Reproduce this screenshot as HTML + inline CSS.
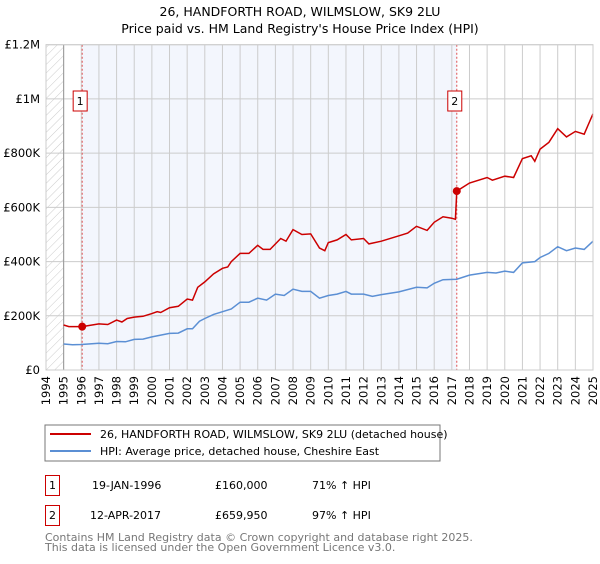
<!DOCTYPE html>
<html><head><meta charset="utf-8"><style>
body{margin:0;background:#fff;font-family:"DejaVu Sans","Liberation Sans",sans-serif;}
svg text{font-family:"DejaVu Sans","Liberation Sans",sans-serif;}
</style></head><body>
<svg width="600" height="560" viewBox="0 0 600 560" id="svg">
<defs><pattern id="hatch" width="6" height="6" patternUnits="userSpaceOnUse" patternTransform="rotate(45)"><line x1="0" y1="0" x2="0" y2="6" stroke="#ccc" stroke-width="1"/></pattern></defs>
<text x="300" y="16" text-anchor="middle" font-size="12.5">26, HANDFORTH ROAD, WILMSLOW, SK9 2LU</text>
<text x="300" y="33" text-anchor="middle" font-size="12.5">Price paid vs. HM Land Registry's House Price Index (HPI)</text>
<g id="plot"></g>
<rect x="45" y="425" width="395" height="36" fill="#fff" stroke="#777"/>
<line x1="50" y1="434" x2="91" y2="434" stroke="#cc0000" stroke-width="2"/>
<text x="100" y="438" font-size="11">26, HANDFORTH ROAD, WILMSLOW, SK9 2LU (detached house)</text>
<line x1="50" y1="451" x2="91" y2="451" stroke="#5b8fd4" stroke-width="2"/>
<text x="100" y="455" font-size="11">HPI: Average price, detached house, Cheshire East</text>
<g font-size="11">
<rect x="45.5" y="475.5" width="14" height="20" fill="#fff" stroke="#cc0000"/><text x="52.5" y="489" text-anchor="middle">1</text>
<text x="92" y="489">19-JAN-1996</text><text x="215" y="489">£160,000</text><text x="312" y="489">71% ↑ HPI</text></g>
<g font-size="11">
<rect x="45.5" y="505.5" width="14" height="20" fill="#fff" stroke="#cc0000"/><text x="52.5" y="519" text-anchor="middle">2</text>
<text x="90" y="519">12-APR-2017</text><text x="215" y="519">£659,950</text><text x="312" y="519">97% ↑ HPI</text></g>
<text x="45" y="541" font-size="11" fill="#777">Contains HM Land Registry data © Crown copyright and database right 2025.</text>
<text x="45" y="551" font-size="11" fill="#777">This data is licensed under the Open Government Licence v3.0.</text>
</svg>
<script>
const yTicks=[0,200000,400000,600000,800000,1000000,1200000];
const yTickLabels=["£0","£200K","£400K","£600K","£800K","£1M","£1.2M"];
const years=[1994,1995,1996,1997,1998,1999,2000,2001,2002,2003,2004,2005,2006,2007,2008,2009,2010,2011,2012,2013,2014,2015,2016,2017,2018,2019,2020,2021,2022,2023,2024,2025];
const saleDates=[1996.05,2017.28];
const salePrices=[160000,659950];
const priceX=[1995,1995.3,1996.05,1997,1997.5,1998,1998.3,1998.6,1999,1999.5,2000,2000.3,2000.5,2001,2001.5,2002,2002.3,2002.6,2003,2003.5,2004,2004.3,2004.5,2005,2005.5,2006,2006.3,2006.7,2007.3,2007.6,2008,2008.5,2009,2009.5,2009.8,2010,2010.5,2011,2011.3,2012,2012.3,2013,2014,2014.5,2015,2015.6,2016,2016.5,2017.0,2017.2,2017.28,2018,2019,2019.3,2020,2020.5,2021,2021.5,2021.7,2022,2022.5,2023,2023.5,2024,2024.5,2024.7,2025];
const priceY=[166000,160000,160000,170000,168000,184000,177000,190000,195000,198000,208000,215000,212000,230000,235000,262000,258000,305000,325000,355000,375000,380000,400000,430000,430000,460000,445000,445000,485000,475000,518000,500000,502000,450000,440000,470000,480000,500000,480000,485000,465000,475000,495000,505000,530000,515000,545000,565000,560000,556000,660000,690000,710000,700000,715000,710000,780000,790000,770000,815000,840000,890000,860000,880000,870000,900000,945000];
const hpiX=[1995,1995.5,1996,1997,1997.5,1998,1998.5,1999,1999.5,2000,2001,2001.5,2002,2002.3,2002.7,2003,2003.5,2004,2004.5,2005,2005.5,2006,2006.5,2007,2007.5,2008,2008.5,2009,2009.5,2010,2010.5,2011,2011.3,2012,2012.5,2013,2014,2015,2015.6,2016,2016.5,2017.28,2018,2019,2019.5,2020,2020.5,2021,2021.7,2022,2022.5,2023,2023.5,2024,2024.5,2025];
const hpiY=[96000,93000,94000,99000,97000,105000,104000,113000,114000,122000,135000,136000,152000,152000,180000,190000,205000,215000,225000,250000,250000,265000,258000,280000,275000,298000,290000,290000,265000,275000,280000,290000,280000,280000,272000,278000,288000,305000,303000,320000,333000,335000,350000,360000,358000,365000,360000,395000,400000,415000,430000,455000,440000,450000,445000,475000];
const NS='http://www.w3.org/2000/svg';
const L=46,R=593,T=44.7,B=370;
const xs=v=>L+(v-1994)/(2025-1994)*(R-L);
const ys=v=>B-v/1200000*(B-T);
const g=document.getElementById('plot');
function mk(t,a,p){const e=document.createElementNS(NS,t);for(const k in a)e.setAttribute(k,a[k]);(p||g).appendChild(e);return e;}
let e;
e=mk('rect',{x:L,y:T,width:xs(1995)-L,height:B-T,fill:'url(#hatch)'});


e=mk('rect',{x:xs(saleDates[0]),y:T,width:xs(saleDates[1])-xs(saleDates[0]),height:B-T,fill:'#f3f6fd'});


yTicks.forEach((v,i)=>{
 e=mk('line',{x1:L,x2:R,y1:ys(v),y2:ys(v),stroke:'#ccc','stroke-width':1});
 
 
 e=mk('text',{x:40,y:ys(v)+4,'text-anchor':'end','font-size':'11.5'});e.textContent=yTickLabels[i];
 
 
});
years.forEach(y=>{
 e=mk('line',{x1:xs(y),x2:xs(y),y1:T,y2:B,stroke:'#ccc','stroke-width':1});
 
 
 e=mk('text',{x:0,y:0,'font-size':'11.5','text-anchor':'end',transform:`translate(${xs(y)+4},${B+6}) rotate(-90)`});e.textContent=y;
 
 
});
e=mk('line',{x1:xs(1995),x2:xs(1995),y1:T,y2:B,stroke:'#999'});


saleDates.forEach((d,i)=>{
 e=mk('line',{x1:xs(d),x2:xs(d),y1:T,y2:B,stroke:'#e05050','stroke-dasharray':'2,2','stroke-width':1});
 
 
 const bx=xs(d)-7-(i==0?2:2);
 e=mk('rect',{x:bx,y:91,width:14,height:20,fill:'#fff',stroke:'#cc0000'});
 
 
 e=mk('text',{x:bx+7,y:105,'text-anchor':'middle','font-size':'11'});e.textContent=String(i+1);
 
 
});
const pts=(X,Y)=>X.map((x,i)=>xs(x).toFixed(1)+','+ys(Y[i]).toFixed(1)).join(' ');
e=mk('polyline',{points:pts(hpiX,hpiY),fill:'none',stroke:'#5b8fd4','stroke-width':1.5});


e=mk('polyline',{points:pts(priceX,priceY),fill:'none',stroke:'#cc0000','stroke-width':1.5});


saleDates.forEach((d,i)=>{
 e=mk('circle',{cx:xs(d),cy:ys(salePrices[i]),r:4,fill:'#cc0000'});
 
 
});
e=mk('rect',{x:L,y:T,width:R-L,height:B-T,fill:'none',stroke:'#ccc'});


</script>
</body></html>
